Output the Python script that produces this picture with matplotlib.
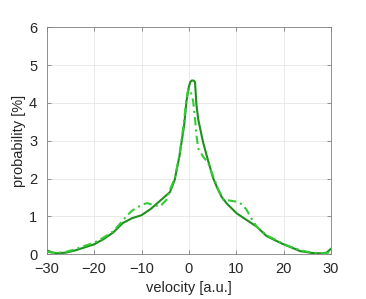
import matplotlib
matplotlib.use('Agg')
import matplotlib.pyplot as plt
import numpy as np

# solid curve (dark green)
x_solid = [-30, -29, -28, -26, -24, -22, -20, -18, -16, -14, -12, -10, -8, -6, -4, -3, -2, -1.5, -1, -0.5, 0, 0.3, 0.6, 1.0, 1.3, 1.6, 2.0, 3.0, 4.0, 5.1, 6.0, 6.9, 8.0, 10.1, 12.0, 14.3, 16.4, 18.0, 20.0, 22.0, 23.5, 26.0, 28.0, 29.1, 30]
y_solid = [0.10, 0.05, 0.02, 0.04, 0.10, 0.18, 0.26, 0.40, 0.57, 0.82, 0.95, 1.03, 1.20, 1.42, 1.64, 1.96, 2.58, 3.00, 3.40, 4.05, 4.42, 4.55, 4.59, 4.59, 4.55, 3.95, 3.55, 2.96, 2.50, 2.02, 1.75, 1.52, 1.34, 1.08, 0.92, 0.73, 0.48, 0.38, 0.26, 0.16, 0.08, 0.03, 0.02, 0.04, 0.14]

# dash-dot curve (bright green)
x_dash = [-30, -28, -26, -24, -22, -20, -18, -16, -14, -13.2, -12, -10, -8.9, -7.5, -6.1, -4.7, -4, -3, -2, -1.5, -1, -0.5, -0.15, 0.4, 0.9, 1.27, 1.6, 1.97, 3.0, 4.08, 5.16, 6.2, 7.26, 8.5, 10.4, 11.4, 12.2, 13.2, 14.3, 16.4, 18.0, 20.0, 22.0, 24.0, 26.0, 28.0, 29.1, 30]
y_dash = [0.06, 0.03, 0.06, 0.13, 0.22, 0.30, 0.44, 0.60, 0.88, 1.00, 1.15, 1.30, 1.35, 1.30, 1.26, 1.44, 1.70, 2.00, 2.62, 3.05, 3.55, 4.10, 4.36, 4.30, 4.05, 3.64, 3.15, 2.80, 2.58, 2.41, 2.05, 1.72, 1.44, 1.42, 1.38, 1.30, 1.17, 0.95, 0.73, 0.50, 0.40, 0.27, 0.17, 0.09, 0.04, 0.02, 0.03, 0.06]

x_ticks = [-30, -20, -10, 0, 10, 20, 30]
y_ticks = [0, 1, 2, 3, 4, 5, 6]

plt.rcParams['font.family'] = ['Liberation Sans', 'DejaVu Sans']
plt.rcParams['font.size'] = 10.5

fig = plt.figure(figsize=(3.66, 2.99), dpi=100)
ax = fig.add_axes([0.128, 0.150, 0.776, 0.759])

ax.plot(x_solid, y_solid, color='#1f8f1f', linewidth=1.5, linestyle='-', solid_joinstyle='round')
ax.plot(x_dash, y_dash, color='#33cc33', linewidth=1.5, linestyle=(0, (4, 2, 1, 2)))

ax.set_xlim(-30, 30)
ax.set_ylim(0, 6)
ax.set_xticks(x_ticks)
ax.set_yticks(y_ticks)
ax.set_xlabel('velocity [a.u.]', color='#262626', labelpad=3)
ax.set_ylabel('probability [%]', color='#262626', labelpad=2)
ax.grid(True, color='#e6e6e6', linewidth=0.6)
ax.set_axisbelow(True)
ax.tick_params(direction='in', length=3, width=0.6, colors='#808080', labelcolor='#262626',
	top=True, right=True)
ax.tick_params(axis='x', pad=6)
ax.tick_params(axis='y', pad=7)
for s in ax.spines.values():
	s.set_color('#808080')
	s.set_linewidth(0.6)

fig.savefig('out.png', dpi=100)
